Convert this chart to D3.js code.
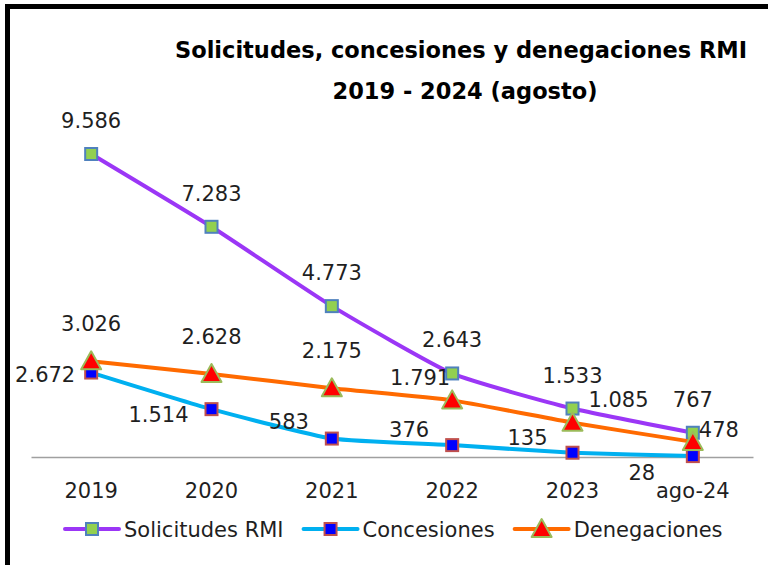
<!DOCTYPE html>
<html>
<head>
<meta charset="utf-8">
<script src="https://cdn.jsdelivr.net/npm/d3@7"></script>
<style>
  html, body { margin: 0; background: #fff; overflow: hidden; }
  svg { display: block; }
  text { font-family: "DejaVu Sans", sans-serif; }
</style>
</head>
<body>
<script>
// Solicitudes, concesiones y denegaciones RMI 2019 - 2024 (agosto)

// data
var categories   = ["2019", "2020", "2021", "2022", "2023", "ago-24"];
var solicitudes  = [9586, 7283, 4773, 2643, 1533, 767];
var concesiones  = [2672, 1514, 583, 376, 135, 28];
var denegaciones = [3026, 2628, 2175, 1791, 1085, 478];
var seriesNames  = ["Solicitudes RMI", "Concesiones", "Denegaciones"];

var width = 768, height = 565;

var svg = d3.select("body").append("svg")
            .attr("width", width)
            .attr("height", height);

// outer frame: only its top and left edges fall inside the picture
svg.append("path")
   .attr("d", "M7.5," + height + "V6.5H" + width)
   .attr("fill", "none")
   .attr("stroke", "#000")
   .attr("stroke-width", 5);

// title
var title = svg.append("text")
               .attr("text-anchor", "middle")
               .attr("font-weight", "bold")
               .attr("font-size", "22.5px")
               .attr("fill", "#000");
title.append("tspan").attr("x", 461).attr("y", 58).text("Solicitudes, concesiones y denegaciones RMI");
title.append("tspan").attr("x", 465).attr("y", 99).text("2019 - 2024 (agosto)");

// scales
var x = d3.scaleBand().domain(categories).range([31, 753]);
var cx = function(c) { return x(c) + x.bandwidth() / 2; };
var y = d3.scaleLinear().domain([0, 9586]).range([457, 154]);

var es = d3.formatLocale({decimal: ",", thousands: ".", grouping: [3], currency: ["", "€"]});
var fmt = es.format(",d");

// category axis: just the baseline and labels
var axis = svg.append("g").attr("transform", "translate(0," + y(0) + ")")
              .call(d3.axisBottom(x).tickSize(0).tickPadding(26));
axis.select(".domain").attr("stroke", "#a0a0a0").attr("stroke-width", 1.5);
axis.selectAll("text")
    .attr("font-size", "21px")
    .attr("fill", "#1f1f1f")
    .attr("font-family", "DejaVu Sans, sans-serif");

// marker shapes
function square(g, fill, stroke) {
  return g.append("rect")
          .attr("x", -6).attr("y", -6)
          .attr("width", 12).attr("height", 12)
          .attr("fill", fill).attr("stroke", stroke).attr("stroke-width", 2);
}
function triangle(g, fill, stroke) {
  return g.append("path")
          .attr("d", "M0,-10L10,8L-10,8Z")
          .attr("fill", fill).attr("stroke", stroke).attr("stroke-width", 2)
          .attr("stroke-linejoin", "round");
}

// series styles and data-label placement (dx, dy from the point)
var series = [
  {name: seriesNames[0], values: solicitudes, color: "#9b36f6", mark: square, fill: "#92d050", stroke: "#4f81bd",
   labels: [[0,-26],[0,-26],[0,-26],[0,-26],[0,-26],[0,-26]]},
  {name: seriesNames[1], values: concesiones, color: "#00b0f0", mark: square, fill: "#0000ff", stroke: "#c0504d",
   labels: [[-46,9],[-53,13],[-43,-10],[-43,-8],[-45,-8],[-51,24]]},
  {name: seriesNames[2], values: denegaciones, color: "#ff6a00", mark: triangle, fill: "#ff0000", stroke: "#9bbb59",
   labels: [[0,-30],[0,-30],[0,-30],[-32,-15],[46,-16],[26,-5]]}
];

var line = d3.line()
             .x(function(d) { return cx(d.c); })
             .y(function(d) { return y(d.v); })
             .curve(d3.curveCardinal.tension(0.5));

series.forEach(function(s) {
  var pts = s.values.map(function(v, i) { return {c: categories[i], v: v}; });
  s.pts = pts;

  svg.append("path")
     .datum(pts)
     .attr("d", line)
     .attr("fill", "none")
     .attr("stroke", s.color)
     .attr("stroke-width", 4)
     .attr("stroke-linecap", "round");

  svg.selectAll(null)
     .data(pts)
     .enter().append("g")
       .attr("transform", function(d) { return "translate(" + cx(d.c) + "," + y(d.v) + ")"; })
       .each(function() { s.mark(d3.select(this), s.fill, s.stroke); });
});

// data labels on top of everything
series.forEach(function(s) {
  svg.selectAll(null)
     .data(s.pts)
     .enter().append("text")
       .attr("x", function(d, i) { return cx(d.c) + s.labels[i][0]; })
       .attr("y", function(d, i) { return y(d.v) + s.labels[i][1]; })
       .attr("text-anchor", "middle")
       .attr("font-size", "21px")
       .attr("fill", "#1f1f1f")
       .text(function(d) { return fmt(d.v); });
});

// legend
var lx = 65, ly = 529;
series.forEach(function(s) {
  var g = svg.append("g").attr("transform", "translate(" + lx + "," + ly + ")");
  g.append("line")
   .attr("x1", 0).attr("x2", 54)
   .attr("stroke", s.color).attr("stroke-width", 4).attr("stroke-linecap", "round");
  s.mark(g.append("g").attr("transform", "translate(27,0)"), s.fill, s.stroke);
  var t = g.append("text")
           .attr("x", 59).attr("y", 8)
           .attr("font-size", "21px")
           .attr("fill", "#1f1f1f")
           .text(s.name);
  lx += 59 + t.node().getComputedTextLength() + 20;
});
</script>
</body>
</html>
